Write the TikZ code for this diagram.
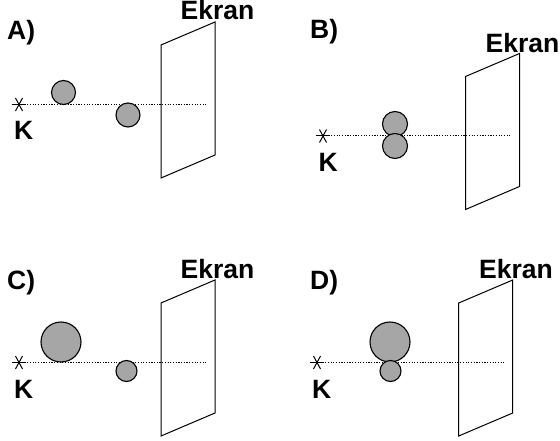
\documentclass[tikz,border=0pt]{standalone}
\usepackage{fontspec}
\setmainfont{Liberation Sans}
\usetikzlibrary{calc}
\newcommand{\panel}[7]{%
% #1 id, #2 y offset, #3 star x, #4 screen x, #5 ekran x, #6 ekran base y, #7 K x shift
\begin{scope}[shift={(0,#2)}]
\coordinate (s#1a) at (#4,45);
\coordinate (s#1b) at ({#4+54},22);
\coordinate (s#1c) at ({#4+54},155);
\coordinate (s#1d) at (#4,178);
\draw[screenline] (s#1a) -- (s#1b) -- (s#1c) -- (s#1d) -- cycle;
\coordinate (k#1) at (#3,104.5);
\coordinate (e#1) at ({#3+187},104.5);
\draw[axisline] (k#1) -- (e#1);
\draw[starline] ($(k#1)+(-7,0)$) -- ($(k#1)+(7,0)$);
\draw[starline] ($(k#1)+(-3.5,-6.5)$) -- ($(k#1)+(3.5,6.5)$);
\draw[starline] ($(k#1)+(3.5,-6.5)$) -- ($(k#1)+(-3.5,6.5)$);
\node[lab] (kl#1) at ({#3+#7},140) {K};
\node[lab] (ek#1) at (#5,#6) {Ekran};
\end{scope}}
\tikzset{
  x=1pt,y=-1pt,
  screenline/.style={draw=black,line width=1pt},
  axisline/.style={draw=black,line width=1pt,dash pattern=on 1.2pt off 1.5pt},
  starline/.style={draw=black,line width=1pt},
  lab/.style={anchor=base west,inner sep=0pt,font=\fontsize{26.5}{28}\selectfont\bfseries},
  ball/.style={circle,draw=black,fill=black!35,line width=1.1pt,inner sep=0pt,minimum size=#1}
}
\begin{document}
\begin{tikzpicture}
\useasboundingbox (0,0) rectangle (560,441);
\panel{A}{0}{19}{161}{180.5}{20}{-5}
\panel{B}{31.5}{323}{465.5}{485.5}{21.5}{-4.5}
\panel{C}{258}{19}{161}{180.5}{20}{-5}
\panel{D}{258}{317}{458.7}{479}{20}{-5}
\node[lab] (lA) at (7,40) {A)};
\node[lab] (lB) at (310,39) {B)};
\node[lab] (lC) at (7,289) {C)};
\node[lab] (lD) at (310,289) {D)};
\node[ball=24pt] (a1) at (63.5,92.5) {};
\node[ball=24pt] (a2) at (128,115) {};
\node[ball=25pt] (b1) at (395,124) {};
\node[ball=25pt] (b2) at (395,146) {};
\node[ball=40pt] (c1) at (61,342) {};
\node[ball=21pt] (c2) at (126.5,371) {};
\node[ball=40pt] (d1) at (390,342) {};
\node[ball=21pt] (d2) at (390.5,371) {};
\end{tikzpicture}
\end{document}
